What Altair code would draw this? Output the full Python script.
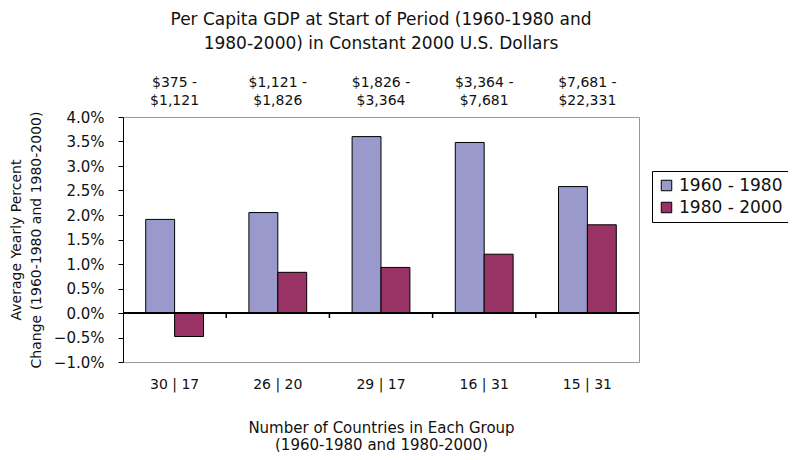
import altair as alt
import pandas as pd

categories = ["30 | 17", "26 | 20", "29 | 17", "16 | 31", "15 | 31"]
gdp_ranges = ["$375 -\n$1,121", "$1,121 -\n$1,826", "$1,826 -\n$3,364",
              "$3,364 -\n$7,681", "$7,681 -\n$22,331"]
periods = ["1960 - 1980", "1980 - 2000"]
growth_1960_1980 = [0.0191, 0.0205, 0.0360, 0.0348, 0.0258]
growth_1980_2000 = [-0.0048, 0.0083, 0.0093, 0.0120, 0.0180]
colors = ["#9999CC", "#993366"]
y_ticks = [-0.01, -0.005, 0.0, 0.005, 0.01, 0.015, 0.02, 0.025, 0.03, 0.035, 0.04]

rows = []
for c, a, b in zip(categories, growth_1960_1980, growth_1980_2000):
    rows.append({"cat": c, "period": periods[0], "value": a})
    rows.append({"cat": c, "period": periods[1], "value": b})
bars_df = pd.DataFrame(rows)
top_df = pd.DataFrame({"cat": categories, "gdp": gdp_ranges})
tick_df = pd.DataFrame({"cat": categories[1:]})

FONT = "DejaVu Sans"
W = 516
STEP = W / 5
xscale = alt.Scale(domain=categories, paddingInner=0.44, paddingOuter=0.22)
yscale = alt.Scale(domain=[-0.01, 0.04], nice=False, zero=False)
yaxis = alt.Axis(values=y_ticks, format=".1%", grid=False, tickSize=5, domainColor="black",
                 tickColor="black", labelFontSize=15, labelPadding=14, labelOverlap=False,
                 title=["Average Yearly Percent", "Change (1960-1980 and 1980-2000)"],
                 titleFontSize=14, titleFontWeight="normal", titlePadding=10,
                 titleLineHeight=20, labelColor="#111", titleColor="#111")

bars = alt.Chart(bars_df).mark_bar(stroke="black", strokeWidth=1).encode(
    x=alt.X("cat:N", sort=categories, scale=xscale,
            axis=alt.Axis(title=["Number of Countries in Each Group", "(1960-1980 and 1980-2000)"],
                          labelAngle=0, ticks=False, domain=False, labelPadding=15,
                          labelFontSize=14, titleFontSize=15, titleFontWeight="normal",
                          titlePadding=29, titleLineHeight=17, labelColor="#111", titleColor="#111")),
    xOffset=alt.XOffset("period:N", sort=periods, scale=alt.Scale(paddingInner=0, paddingOuter=0)),
    y=alt.Y("value:Q", scale=yscale, axis=yaxis),
    color=alt.Color("period:N", sort=periods, scale=alt.Scale(domain=periods, range=colors),
                    legend=alt.Legend(title=None, orient="none", legendX=529, legendY=54,
                                      symbolType="square", symbolSize=110, symbolStrokeColor="black",
                                      symbolStrokeWidth=1, labelFontSize=17, rowPadding=4,
                                      strokeColor="black", padding=6, labelColor="#111",
                                      symbolOpacity=1)),
)

zero = alt.Chart(bars_df).mark_rule(color="black", strokeWidth=1).encode(
    y=alt.YDatum(0, scale=yscale, axis=yaxis)
)

ticks = alt.Chart(tick_df).mark_rule(color="black", strokeWidth=1.5, xOffset=-0.22 * STEP,
                                     y2Offset=5).encode(
    x=alt.X("cat:N", sort=categories, scale=xscale, bandPosition=0),
    y=alt.YDatum(0, scale=yscale, axis=yaxis),
    y2=alt.datum(0),
)

top = alt.Chart(top_df).mark_text(lineBreak="\n", fontSize=14, lineHeight=18, baseline="middle",
                                  color="#111").encode(
    x=alt.X("cat:N", sort=categories, scale=xscale),
    y=alt.value(-34),
    text="gdp:N",
)

chart = alt.layer(bars, zero, ticks, top).properties(
    width=W, height=245,
    title=alt.Title(["Per Capita GDP at Start of Period (1960-1980 and",
                     "1980-2000) in Constant 2000 U.S. Dollars"],
                    fontSize=17, fontWeight="normal", lineHeight=24, anchor="middle",
                    offset=23, color="#111"),
    padding={"left": 115, "top": 109, "right": 149, "bottom": 90},
    autosize=alt.AutoSizeParams(type="none"),
).configure(font=FONT).configure_view(stroke="#999", strokeWidth=1)

chart.save("out.html", embed_options={"renderer": "svg", "actions": False})
